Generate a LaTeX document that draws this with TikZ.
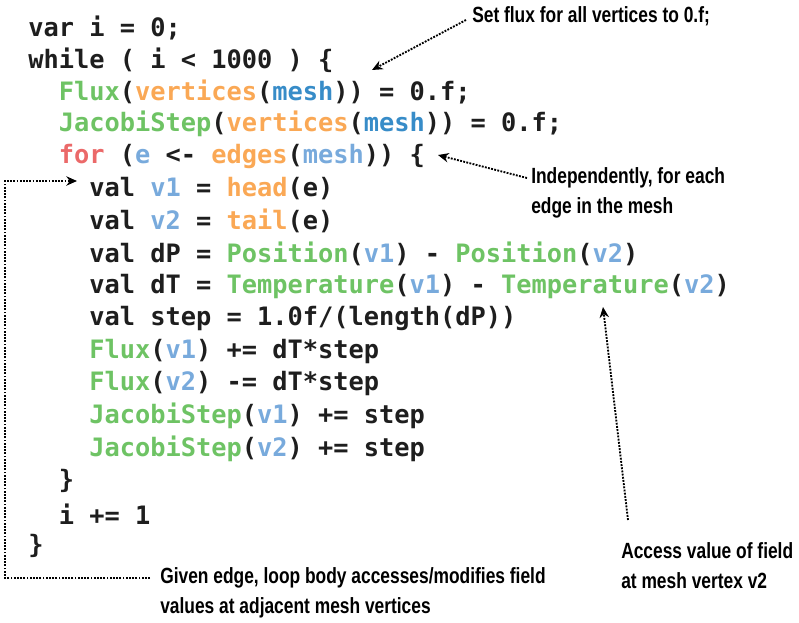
\documentclass[tikz,border=0pt]{standalone}
\usepackage{fontspec}
\setmonofont{DejaVu Sans Mono}
\newfontfamily\notefont[FakeStretch=0.79]{Liberation Sans Bold}
\usetikzlibrary{arrows.meta}
\definecolor{fngreen}{RGB}{110,195,100}
\definecolor{fnorange}{RGB}{250,168,85}
\definecolor{meshblue}{RGB}{55,140,200}
\definecolor{varblue}{RGB}{120,170,220}
\definecolor{kwred}{RGB}{235,105,105}
\definecolor{codeblack}{RGB}{30,30,30}
\newcommand{\fn}[1]{\textcolor{fngreen}{#1}}
\newcommand{\op}[1]{\textcolor{fnorange}{#1}}
\newcommand{\msh}[1]{\textcolor{meshblue}{#1}}
\newcommand{\vr}[1]{\textcolor{varblue}{#1}}
\newcommand{\kw}[1]{\textcolor{kwred}{#1}}
\tikzset{
  code/.style={anchor=west, inner sep=0pt, text=codeblack,
    font=\ttfamily\bfseries\fontsize{19}{22}\selectfont},
  note/.style={anchor=west, inner sep=0pt, align=left, text=black,
    font=\notefont\fontsize{16.5}{22.5}\selectfont},
  pointer/.style={densely dotted, line width=1.4pt, -{Stealth[length=8pt,width=7pt]}}
}
\begin{document}
\begin{tikzpicture}[x=0.75pt,y=-0.75pt]
  \useasboundingbox (0,0) rectangle (799,622);
  % code
  \node[code] (l1) at (28,28) {var i = 0;};
  \node[code] (l2) at (28,60) {while ( i < 1000 ) \{};
  \node[code] (l3) at (28,92) {\ \ \fn{Flux}(\op{vertices}(\msh{mesh})) = 0.f;};
  \node[code] (l4) at (28,124) {\ \ \fn{JacobiStep}(\op{vertices}(\msh{mesh})) = 0.f;};
  \node[code] (l5) at (28,156) {\ \ \kw{for} (\vr{e} <- \op{edges}(\vr{mesh})) \{};
  \node[code] (l6) at (28,189) {\ \ \ \ val \vr{v1} = \op{head}(e)};
  \node[code] (l7) at (28,221) {\ \ \ \ val \vr{v2} = \op{tail}(e)};
  \node[code] (l8) at (28,254) {\ \ \ \ val dP = \fn{Position}(\vr{v1}) - \fn{Position}(\vr{v2})};
  \node[code] (l9) at (28,287) {\ \ \ \ val dT = \fn{Temperature}(\vr{v1}) - \fn{Temperature}(\vr{v2})};
  \node[code] (l10) at (28,319) {\ \ \ \ val step = 1.0f/(length(dP))};
  \node[code] (l11) at (28,352) {\ \ \ \ \fn{Flux}(\vr{v1}) += dT*step};
  \node[code] (l12) at (28,384) {\ \ \ \ \fn{Flux}(\vr{v2}) -= dT*step};
  \node[code] (l13) at (28,416) {\ \ \ \ \fn{JacobiStep}(\vr{v1}) += step};
  \node[code] (l14) at (28,449) {\ \ \ \ \fn{JacobiStep}(\vr{v2}) += step};
  \node[code] (l15) at (28,481) {\ \ \}};
  \node[code] (l16) at (28,514) {\ \ i += 1};
  \node[code] (l17) at (28,546) {\}};
  % notes
  \node[note] (setflux) at (472,16) {Set flux for all vertices to 0.f;};
  \node[note] (eachedge) at (531,193) {Independently, for each\\edge in the mesh};
  \node[note] (access) at (621,566) {Access value of field\\at mesh vertex v2};
  \node[note] (given) at (160,593) {Given edge, loop body accesses/modifies field\\values at adjacent mesh vertices};
  % pointers
  \coordinate (fluxtip) at (372,70);
  \coordinate (fortip) at (438,155);
  \coordinate (temptip) at (603,307);
  \coordinate (bodytip) at (77,181);
  \draw[pointer] (466,20) -- (fluxtip);
  \draw[pointer] (527,178) -- (fortip);
  \draw[pointer] (628,520) -- (temptip);
  \draw[pointer] (150,578) -- (5,578) -- (5,181) -- (bodytip);
\end{tikzpicture}
\end{document}
